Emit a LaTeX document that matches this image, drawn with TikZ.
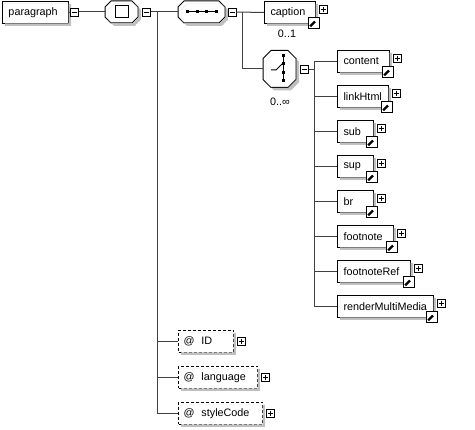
\documentclass[tikz,border=0pt]{standalone}
\usepackage{fontspec}
\setmainfont{Liberation Sans}
\definecolor{shadegray}{RGB}{192,192,192}
\definecolor{linegray}{RGB}{64,64,64}
\tikzset{
  txt/.style={font=\fontsize{10.8}{13}\selectfont},
  elembox/.style={txt,draw=black,fill=white,line width=1pt,minimum height=22pt,inner xsep=6pt,inner ysep=0pt,align=left,anchor=north west},
  attrbox/.style={elembox,inner xsep=5pt,dash pattern=on 3pt off 2pt},
  octnode/.style={draw=none,inner sep=0pt,outer sep=0pt},
  btn/.style={draw=black,fill=white,line width=0.8pt,minimum size=8pt,inner sep=0pt,outer sep=0pt},
  minusbtn/.style={btn,path picture={\draw[line width=0.8pt] ([xshift=-2.5pt]path picture bounding box.center) -- ([xshift=2.5pt]path picture bounding box.center);}},
  plusbtn/.style={btn,path picture={\draw[line width=0.8pt] ([xshift=-2.5pt]path picture bounding box.center) -- ([xshift=2.5pt]path picture bounding box.center) ([yshift=-2.5pt]path picture bounding box.center) -- ([yshift=2.5pt]path picture bounding box.center);}},
  linkicon/.style={draw=black,fill=white,line width=0.8pt,minimum size=11pt,inner sep=0pt,
    path picture={
      \draw[line width=2.2pt] ([xshift=-3.8pt,yshift=-3.8pt]path picture bounding box.center) -- ([xshift=1.2pt,yshift=1.2pt]path picture bounding box.center);
      \fill ([xshift=4.2pt,yshift=4.2pt]path picture bounding box.center) -- ([xshift=4.2pt,yshift=-1.8pt]path picture bounding box.center) -- ([xshift=-1.8pt,yshift=4.2pt]path picture bounding box.center) -- cycle;}},
  conn/.style={draw=linegray,line width=1pt},
  card/.style={txt,inner sep=0pt}
}
% octagon path: cx, cy, w, h, cut
\newcommand\octp[5]{({(#1)-(#3)/2+(#5)},{(#2)-(#4)/2}) -- ({(#1)+(#3)/2-(#5)},{(#2)-(#4)/2}) -- ({(#1)+(#3)/2},{(#2)-(#4)/2+(#5)}) -- ({(#1)+(#3)/2},{(#2)+(#4)/2-(#5)}) -- ({(#1)+(#3)/2-(#5)},{(#2)+(#4)/2}) -- ({(#1)-(#3)/2+(#5)},{(#2)+(#4)/2}) -- ({(#1)-(#3)/2},{(#2)+(#4)/2-(#5)}) -- ({(#1)-(#3)/2},{(#2)-(#4)/2+(#5)}) -- cycle}
% shadow: the part of the shifted shape visible right of and below the shape
\newcommand\octshadow[5]{\begin{scope}\clip \octp{(#1)+3}{(#2)+3}{#3}{#4}{#5};\fill[shadegray,even odd rule] \octp{(#1)+3}{(#2)+3}{#3}{#4}{#5} \octp{#1}{#2}{(#3)+1}{(#4)+1}{#5};\end{scope}}
\begin{document}
\begin{tikzpicture}[x=1pt,y=-1pt]
\useasboundingbox (0,0) rectangle (475,430);
% root
\node[elembox,text width=54pt] (para) at (2,1) {paragraph};
\octshadow{35}{12}{66}{22}{0}
\node[minusbtn] (m1) at (74.5,12) {};
% top choice
\filldraw[fill=white,draw=black,line width=1pt] \octp{121.5}{12}{33}{22}{6};
\octshadow{121.5}{12}{33}{22}{6}
\node[octnode,minimum width=33pt,minimum height=22pt] (ch1) at (121.5,12) {};
\draw[line width=1pt] (115,6) rectangle (128,18);
\node[minusbtn] (m2) at (146.5,12) {};
\coordinate (t2) at (157,12);
% sequence
\filldraw[fill=white,draw=black,line width=1pt] \octp{201.5}{12}{47}{22}{6};
\octshadow{201.5}{12}{47}{22}{6}
\node[octnode,minimum width=47pt,minimum height=22pt] (seq) at (201.5,12) {};
\draw[line width=1pt] (186,12) -- (218,12);
\foreach \x in {187.5,197,206.5,216} \fill (\x-1.5,10.5) rectangle (\x+1.5,13.5);
\node[minusbtn] (m3) at (232.5,12) {};
\coordinate (t3) at (242,12);
% caption
\node[elembox,text width=39pt] (cap) at (264,1) {caption};
\octshadow{289.5}{12}{51}{22}{0}
\node[plusbtn] (p-cap) at ([xshift=7.5pt,yshift=-8.5pt]cap.north east) {};
\node[linkicon] (l-cap) at ([xshift=-2pt,yshift=1.5pt]cap.south east) {};
\node[card] (c-cap) at (287,33.5) {0..1};
% inner choice
\filldraw[fill=white,draw=black,line width=1pt] \octp{279.5}{69}{33}{37}{8};
\octshadow{279.5}{69}{33}{37}{8}
\node[octnode,minimum width=33pt,minimum height=37pt] (sw) at (279.5,69) {};
\draw[line width=1pt] (283,55) -- (283,81);
\foreach \y in {55.5,64,72.5,81} \fill (281.5,\y-1.5) rectangle (284.5,\y+1.5);
\draw[line width=1pt] (271,70) -- (276,70) -- (282,64);
\node[card] (c-sw) at (280,101.5) {0..∞};
\node[minusbtn] (m4) at (304.5,69.5) {};
\coordinate (t4) at (314,69.5);
% elements
\foreach \nm/\tp/\tw in {content/50/40,linkHtml/85/39,sub/120/24,sup/155/24,br/190/24,footnote/225/44,footnoteRef/260/61,renderMultiMedia/295/84}{
  \node[elembox,text width=\tw pt] (\nm) at (337,\tp) {\nm};
  \octshadow{337+(\tw+12)/2}{\tp+11}{\tw+12}{22}{0}
  \node[plusbtn] (p-\nm) at ([xshift=7.5pt,yshift=-8.5pt]\nm.north east) {};
  \node[linkicon] (l-\nm) at ([xshift=-2pt,yshift=1.5pt]\nm.south east) {};
  \draw[conn] (t4) |- (\nm.west);
}
% attributes
\node[attrbox,text width=45pt] (aID) at (178,330) {@\hspace{7pt}ID};
\node[attrbox,text width=69pt] (aLang) at (178,366) {@\hspace{7pt}language};
\node[attrbox,text width=74pt] (aStyle) at (178,402) {@\hspace{7pt}styleCode};
\octshadow{205.5}{341}{55}{22}{0}
\octshadow{217.5}{377}{79}{22}{0}
\octshadow{220}{413}{84}{22}{0}
\node[plusbtn] (p-aID) at ([xshift=7.5pt]aID.east) {};
\node[plusbtn] (p-aLang) at ([xshift=7.5pt]aLang.east) {};
\node[plusbtn] (p-aStyle) at ([xshift=7.5pt]aStyle.east) {};
% connectors
\draw[conn] (para.east) -- (m1.west);
\draw[conn] (m1.east) -- (ch1.west);
\draw[conn] (m2.east) -- (seq.west);
\draw[conn] (t2) |- (aID.west);
\draw[conn] (t2) |- (aLang.west);
\draw[conn] (t2) |- (aStyle.west);
\draw[conn] (m3.east) -- (cap.west);
\draw[conn] (t3) |- (sw.west);
\draw[conn] (m4.east) -- (t4);
\end{tikzpicture}
\end{document}
